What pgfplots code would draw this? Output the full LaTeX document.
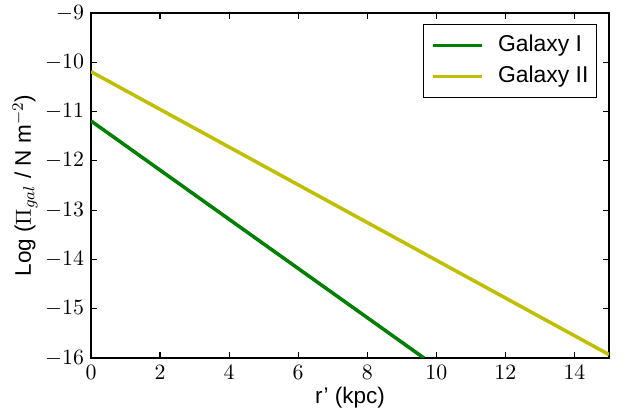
\documentclass[border=0pt]{standalone}
\usepackage{fontspec}
\setmainfont{Liberation Sans}
\usepackage{pgfplots}
\pgfplotsset{compat=1.18}
\definecolor{cg}{RGB}{0,128,0}
\definecolor{cy}{RGB}{191,191,0}
\begin{document}
\begin{tikzpicture}
\path[use as bounding box] (-45.5bp,-30bp) rectangle (270.5bp,179bp);
\begin{axis}[
  at={(0,0)}, anchor=south west,
  scale only axis, width=259bp, height=172.5bp,
  xmin=0, xmax=15, ymin=-16, ymax=-9,
  xtick={0,2,...,14}, ytick={-16,-15,...,-9},
  tick align=inside, major tick length=3bp,
  axis line style={line width=0.6bp},
  every tick/.style={line width=0.6bp, black},
  tick label style={font=\fontsize{11}{13}\selectfont},
  xlabel={r’ (kpc)}, ylabel={Log ($\Pi_{gal}$ / N m$^{-2}$)},
  label style={font=\fontsize{11.3}{13}\selectfont},
  xlabel style={yshift=3bp},
  ylabel style={yshift=-3bp},
  legend style={at={(rel axis cs:1,1)}, anchor=north east, xshift=-6bp, yshift=-5.5bp,
    font=\fontsize{11.5}{13}\selectfont, draw=black, line width=0.5bp,
    inner xsep=4bp, inner ysep=5bp, row sep=4.5bp,
    nodes={inner sep=0pt, text height=8.5bp, text depth=2.5bp}},
  legend cell align=left,
  legend image code/.code={\path[draw=none] (0bp,0bp) -- (32.5bp,0bp); \draw[#1, line width=1.75bp] (0bp,0bp) -- (24.5bp,0bp);},
]
\addplot[cg, line width=1.75bp] coordinates {(0,-11.19) (9.64,-16)};
\addlegendentry{Galaxy I}
\addplot[cy, line width=1.75bp] coordinates {(0,-10.19) (15,-15.93)};
\addlegendentry{Galaxy II}
\end{axis}
\end{tikzpicture}
\end{document}
